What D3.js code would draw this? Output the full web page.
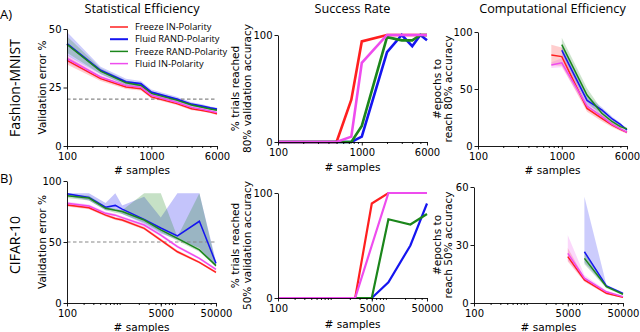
<!DOCTYPE html>
<html><head><meta charset="utf-8">
<script src="https://cdn.jsdelivr.net/npm/d3@7"></script>
<style>body{margin:0;background:#fff}svg{display:block}</style>
</head><body>
<svg id="c" width="640" height="332"></svg>
<script>
// ---------------- DATA ----------------
const seriesNames = ["Freeze IN-Polarity", "Fluid RAND-Polarity", "Freeze RAND-Polarity", "Fluid IN-Polarity"];
const fmSamples = [100, 250, 500, 750, 1000, 2000, 3000, 4000, 5000, 6000];
const cfSamples = [100, 250, 500, 750, 1000, 2500, 5000, 10000, 25000, 50000];
const fmTicks = [100, 1000, 6000];
const cfTicks = [100, 5000, 50000];

// Fashion-MNIST: validation error %
const fmErrRed = [36.6, 28.8, 25.2, 24.5, 21.0, 18.1, 15.9, 15.2, 14.5, 13.8];
const fmErrRedStd = [1.8, 1.0, 0.8, 0.8, 0.7, 0.6, 0.6, 0.5, 0.5, 0.5];
const fmErrBlue = [43.7, 32.3, 27.4, 26.6, 23.0, 20.0, 17.8, 17.0, 16.2, 15.7];
const fmErrBlueStd = [5.0, 1.6, 1.3, 1.2, 1.1, 1.0, 0.9, 0.8, 0.7, 0.6];
const fmErrGreen = [43.4, 32.0, 27.0, 25.9, 22.5, 19.6, 17.5, 16.6, 15.8, 15.3];
const fmErrGreenStd = [3.5, 1.2, 1.0, 0.9, 0.8, 0.7, 0.6, 0.6, 0.5, 0.5];
const fmErrMagenta = [37.4, 29.5, 25.8, 25.1, 21.7, 18.7, 16.5, 15.7, 15.0, 14.3];
const fmErrMagentaStd = [1.8, 0.9, 0.7, 0.7, 0.6, 0.5, 0.5, 0.5, 0.4, 0.4];
const fmThreshold = 20;

// Fashion-MNIST: % trials reached 80% accuracy
const fmSuccRed = [0, 0, 0, 39.5, 94, 100, 100, 100, 100, 100];
const fmSuccBlue = [0, 0, 0, 0, 5, 84, 100, 89.5, 100, 95];
const fmSuccGreen = [0, 0, 0, 0, 15, 98, 95, 95, 100, 100];
const fmSuccMagenta = [0, 0, 0, 5, 74, 100, 100, 100, 100, 100];

// Fashion-MNIST: epochs to reach 80%
const fmEpRed = [null, null, null, 79.8, 78.4, 33, 24.3, 18.4, 14.6, 12];
const fmEpRedStd = [null, null, null, 9, 8, 3, 2.5, 2, 1.5, 1.2];
const fmEpBlue = [null, null, null, null, 84, 40, 31.6, 23.7, 19, 14];
const fmEpBlueStd = [null, null, null, null, 4, 4, 2.5, 2, 1.5, 1];
const fmEpGreen = [null, null, null, null, 89, 44.7, 28.7, 21.3, 17, 15];
const fmEpGreenStd = [null, null, null, null, 6, 6, 3, 2, 1.5, 1.2];
const fmEpMagenta = [null, null, null, 71, 73, 35, 26, 19, 15, 12];
const fmEpMagentaStd = [null, null, null, 2.5, 4, 3, 2, 1.5, 1, 1];

// CIFAR-10: validation error %
const cfErrRed = [80.3, 78, 72, 69.3, 68, 61.2, 51.6, 42, 33.3, 25.1];
const cfErrRedStd = [1.2, 1.2, 1.2, 1.2, 1.2, 1.2, 1.2, 1.2, 1.0, 1.0];
const cfErrBlue = [89.5, 86.5, 78.5, 80, 77, 68.5, 61.5, 55, 67, 32.5];
const cfErrBlueHi = [90, 90, 82, 90, 80, 87, 70, 90, 90, 34];
const cfErrBlueLo = [88, 84, 76, 76, 73, 65, 57, 52, 45, 30];
const cfErrGreen = [88, 86, 77.6, 76, 75, 68, 60, 53, 43.5, 30.6];
const cfErrGreenHi = [89, 88, 79, 77, 76, 90, 90, 54, 90, 32];
const cfErrGreenLo = [86, 84, 76, 74, 73, 66, 58, 51, 42, 29.5];
const cfErrMagenta = [81.7, 79.5, 73.5, 72, 70, 63.9, 55.7, 46.2, 36.6, 27.5];
const cfErrMagentaStd = [1.2, 1.2, 1.2, 1.2, 1.2, 1.2, 1.2, 1.2, 1.0, 1.0];
const cfThreshold = 50;

// CIFAR-10: % trials reached 50% accuracy
const cfSuccRed = [0, 0, 0, 0, 0, 0, 90, 100, 100, 100];
const cfSuccBlue = [0, 0, 0, 0, 0, 0, 0, 15, 50, 90];
const cfSuccGreen = [0, 0, 0, 0, 0, 0, 0, 75, 70, 80];
const cfSuccMagenta = [0, 0, 0, 0, 0, 0, 50, 100, 100, 100];

// CIFAR-10: epochs to reach 50%
const cfEpRed = [null, null, null, null, null, null, 24, 11.9, 5, 2.9];
const cfEpRedHi = [null, null, null, null, null, null, 28.5, 13, 5.6, 3.2];
const cfEpRedLo = [null, null, null, null, null, null, 21.5, 11, 4.4, 2.6];
const cfEpBlue = [null, null, null, null, null, null, null, 26.5, 8.8, 5];
const cfEpBlueHi = [null, null, null, null, null, null, null, 55, 9.5, 5.6];
const cfEpBlueLo = [null, null, null, null, null, null, null, 21, 8.1, 4.5];
const cfEpGreen = [null, null, null, null, null, null, null, 23.1, 8.4, 4.5];
const cfEpGreenHi = [null, null, null, null, null, null, null, 26, 9.2, 5.1];
const cfEpGreenLo = [null, null, null, null, null, null, null, 20, 7.6, 4];
const cfEpMagenta = [null, null, null, null, null, null, 25.7, 12.8, 5.8, 3.3];
const cfEpMagentaHi = [null, null, null, null, null, null, 35, 14.5, 6.5, 3.6];
const cfEpMagentaLo = [null, null, null, null, null, null, 22, 11.5, 5, 3];

// ---------------- DRAW ----------------
const COL = {red: "#ff1f1f", blue: "#1515f0", green: "#1b861b", magenta: "#ee4cee"};
const svg = d3.select("#c");
const TF = "DejaVu Sans";
const OF = "'Open Sans', sans-serif";
const TICK_FS = 10;

function minorTicks(lo, hi) {
  const out = [];
  for (let e = Math.floor(Math.log10(lo)); e <= Math.ceil(Math.log10(hi)); e++) {
    for (let m = 2; m <= 9; m++) {
      const v = m * Math.pow(10, e);
      if (v > lo && v < hi) out.push(v);
    }
  }
  return out;
}

function panel(o) {
  const x = d3.scaleLog().domain([o.xTicks[0], o.xTicks[o.xTicks.length - 1]]).range(o.xr);
  const y = d3.scaleLinear().domain([0, o.yTicks[o.yTicks.length - 1]]).range(o.yr);
  const g = svg.append("g");

  // bands
  o.series.forEach(s => {
    if (!s.std && !s.hi) return;
    const pts = o.xs.map((xv, i) => ({
      x: xv, m: s.v[i],
      lo: s.hi ? s.lo[i] : (s.v[i] == null ? null : s.v[i] - s.std[i]),
      hi: s.hi ? s.hi[i] : (s.v[i] == null ? null : s.v[i] + s.std[i])
    })).filter(d => d.m != null);
    g.append("path").datum(pts)
      .attr("d", d3.area().x(d => x(d.x)).y0(d => y(d.lo)).y1(d => y(d.hi)))
      .attr("fill", s.c).attr("fill-opacity", o.bandOp || 0.22).attr("stroke", "none");
  });

  if (o.thr != null) {
    g.append("line").attr("x1", o.xr[0]).attr("x2", o.xr[1]).attr("y1", y(o.thr)).attr("y2", y(o.thr))
      .attr("stroke", "#888").attr("stroke-width", 1.2).attr("stroke-dasharray", "3.5,2.5");
  }

  o.series.forEach(s => {
    const pts = o.xs.map((xv, i) => ({x: xv, m: s.v[i]})).filter(d => d.m != null);
    g.append("path").datum(pts)
      .attr("d", d3.line().x(d => x(d.x)).y(d => y(d.m)))
      .attr("fill", "none").attr("stroke", s.c).attr("stroke-width", s.w || o.lw)
      .attr("stroke-linejoin", "miter");
  });

  // axes
  g.append("g").attr("transform", `translate(0,${o.yr[0]})`)
    .call(d3.axisBottom(x).tickValues(o.xTicks).tickFormat(d3.format("d")).tickSize(3.5).tickSizeOuter(0).tickPadding(3));
  g.append("g").attr("transform", `translate(0,${o.yr[0]})`)
    .call(d3.axisBottom(x).tickValues(minorTicks(o.xTicks[0], o.xTicks[o.xTicks.length - 1])).tickFormat("").tickSize(2).tickSizeOuter(0))
    .select(".domain").remove();
  g.append("g").attr("transform", `translate(${o.xr[0]},0)`)
    .call(d3.axisLeft(y).tickValues(o.yTicks).tickSize(3.5).tickSizeOuter(0).tickPadding(2));
  g.selectAll(".tick text").attr("font-family", TF).attr("font-size", TICK_FS).attr("fill", "#000");
  g.selectAll(".domain, .tick line").attr("stroke", "#000").attr("stroke-width", 0.9);

  // x label
  g.append("text").attr("x", (o.xr[0] + o.xr[1]) / 2).attr("y", o.xlY)
    .attr("text-anchor", "middle").attr("font-family", TF).attr("font-size", 10.5).text("# samples");
  // y label (1 or 2 lines)
  const yc = (o.yr[0] + o.yr[1]) / 2;
  o.ylab.forEach((t, i) => {
    g.append("text").attr("transform", `translate(${o.ylX[i]},${yc}) rotate(-90)`)
      .attr("text-anchor", "middle").attr("font-family", TF).attr("font-size", 10.5).text(t);
  });
  if (o.title) {
    g.append("text").attr("x", (o.xr[0] + o.xr[1]) / 2).attr("y", 13)
      .attr("text-anchor", "middle").attr("font-family", OF).attr("font-size", 12.7).text(o.title);
  }
  return {x, y};
}

const S = (v, c, extra) => Object.assign({v, c}, extra || {});

// Row A
panel({
  xs: fmSamples, xTicks: fmTicks, yTicks: [0, 25, 50], xr: [67, 217], yr: [146, 29], lw: 1.5,
  thr: fmThreshold, title: "Statistical Efficiency", xlY: 174, ylab: ["Validation error %"], ylX: [46],
  series: [S(fmErrRed, COL.red, {std: fmErrRedStd}), S(fmErrBlue, COL.blue, {std: fmErrBlueStd, w: 2}),
           S(fmErrGreen, COL.green, {std: fmErrGreenStd}), S(fmErrMagenta, COL.magenta, {std: fmErrMagentaStd})]
});
panel({
  xs: fmSamples, xTicks: fmTicks, yTicks: [0, 100], xr: [278, 427], yr: [142, 35], lw: 2.6,
  title: "Success Rate", xlY: 171, ylab: ["% trials reached", "80% validation accuracy"], ylX: [239, 251],
  series: [S(fmSuccRed, COL.red), S(fmSuccBlue, COL.blue), S(fmSuccGreen, COL.green), S(fmSuccMagenta, COL.magenta)]
});
panel({
  xs: fmSamples, xTicks: fmTicks, yTicks: [0, 50, 100], xr: [478, 627], yr: [146, 32], lw: 1.5,
  title: "Computational Efficiency", xlY: 174, ylab: ["#epochs to", "reach 80% accuracy"], ylX: [441, 452],
  series: [S(fmEpRed, COL.red, {std: fmEpRedStd}), S(fmEpBlue, COL.blue, {std: fmEpBlueStd}),
           S(fmEpGreen, COL.green, {std: fmEpGreenStd}), S(fmEpMagenta, COL.magenta, {std: fmEpMagentaStd})]
});

// Row B
panel({
  xs: cfSamples, xTicks: cfTicks, yTicks: [0, 50, 100], xr: [67, 216], yr: [303, 181], lw: 1.5, bandOp: 0.25,
  thr: cfThreshold, xlY: 331, ylab: ["Validation error %"], ylX: [46],
  series: [S(cfErrRed, COL.red, {std: cfErrRedStd}), S(cfErrBlue, COL.blue, {hi: cfErrBlueHi, lo: cfErrBlueLo}),
           S(cfErrGreen, COL.green, {hi: cfErrGreenHi, lo: cfErrGreenLo}), S(cfErrMagenta, COL.magenta, {std: cfErrMagentaStd})]
});
panel({
  xs: cfSamples, xTicks: cfTicks, yTicks: [0, 100], xr: [278, 427], yr: [298, 193], lw: 2.2,
  xlY: 328, ylab: ["% trials reached", "50% validation accuracy"], ylX: [239, 251],
  series: [S(cfSuccRed, COL.red), S(cfSuccBlue, COL.blue), S(cfSuccGreen, COL.green), S(cfSuccMagenta, COL.magenta)]
});
panel({
  xs: cfSamples, xTicks: cfTicks, yTicks: [0, 30, 60], xr: [474, 623], yr: [303, 187], lw: 1.5,
  xlY: 331, ylab: ["#epochs to", "reach 50% accuracy"], ylX: [441, 452],
  series: [S(cfEpRed, COL.red, {hi: cfEpRedHi, lo: cfEpRedLo}), S(cfEpBlue, COL.blue, {hi: cfEpBlueHi, lo: cfEpBlueLo}),
           S(cfEpGreen, COL.green, {hi: cfEpGreenHi, lo: cfEpGreenLo}), S(cfEpMagenta, COL.magenta, {hi: cfEpMagentaHi, lo: cfEpMagentaLo})]
});

// Legend (panel A1)
const legCols = [COL.red, COL.blue, COL.green, COL.magenta];
const leg = svg.append("g");
seriesNames.forEach((n, i) => {
  const yy = 27 + i * 12.2;
  leg.append("line").attr("x1", 110).attr("x2", 128).attr("y1", yy).attr("y2", yy)
    .attr("stroke", legCols[i]).attr("stroke-width", i === 1 ? 2 : 1.5);
  leg.append("text").attr("x", 135).attr("y", yy).attr("dy", "0.35em")
    .attr("font-family", OF).attr("font-size", 9.3).text(n);
});

// Row labels
svg.append("text").attr("x", 0).attr("y", 19).attr("font-family", OF).attr("font-size", 13).text("A)");
svg.append("text").attr("x", 0).attr("y", 183).attr("font-family", OF).attr("font-size", 13).text("B)");
svg.append("text").attr("transform", "translate(20,88) rotate(-90)").attr("text-anchor", "middle")
  .attr("font-family", OF).attr("font-size", 14).text("Fashion-MNIST");
svg.append("text").attr("transform", "translate(20,245) rotate(-90)").attr("text-anchor", "middle")
  .attr("font-family", OF).attr("font-size", 14).text("CIFAR-10");
</script>
</body></html>
